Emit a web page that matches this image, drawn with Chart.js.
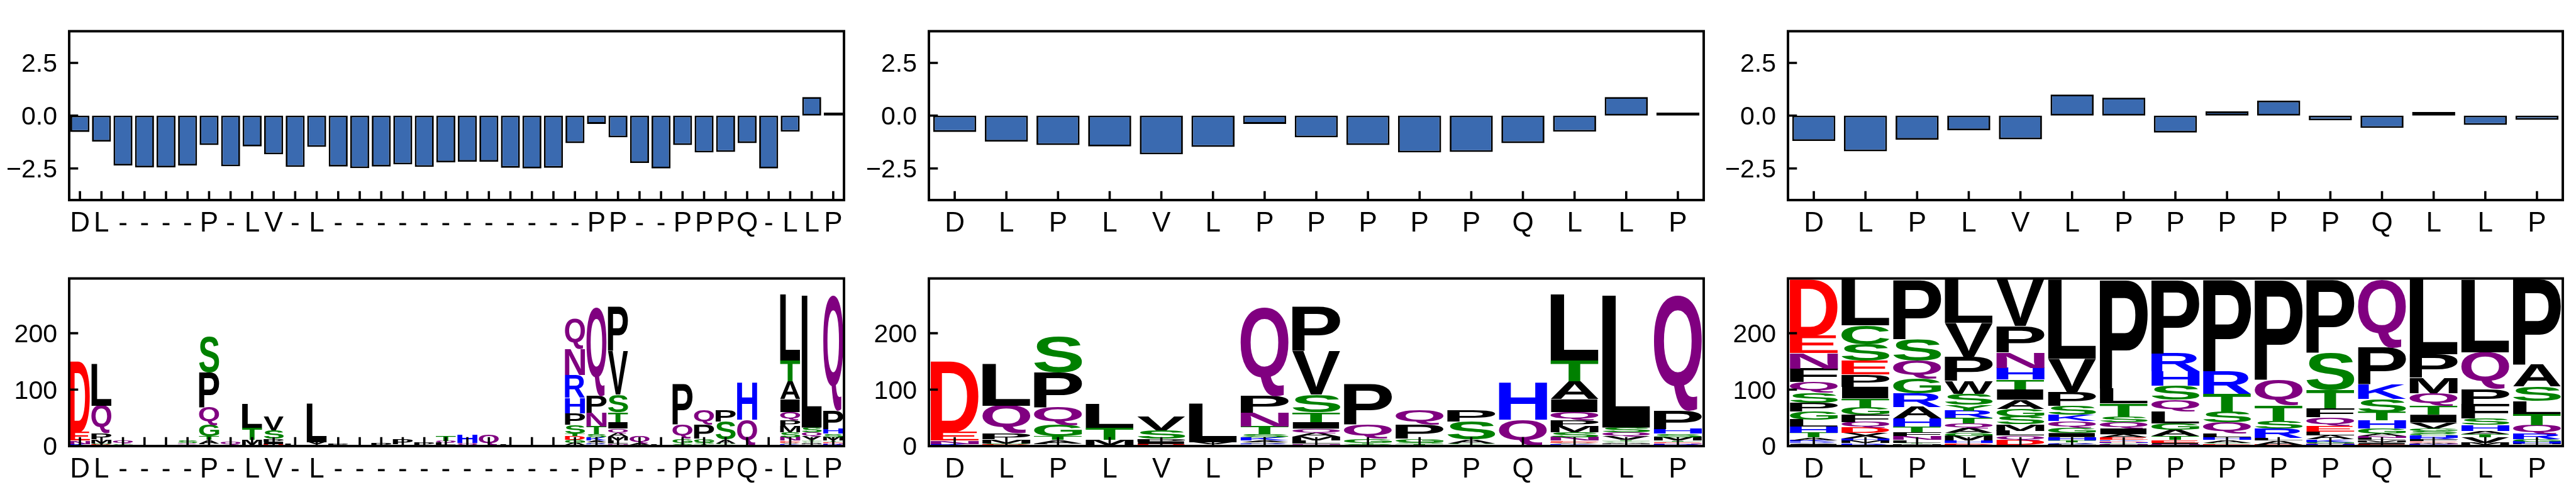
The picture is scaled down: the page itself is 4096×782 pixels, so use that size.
<!DOCTYPE html>
<html><head><meta charset="utf-8">
<script src="https://cdn.jsdelivr.net/npm/chart.js@4.4.1/dist/chart.umd.min.js"></script>
<style>
html,body{margin:0;padding:0;background:#fff;}
body{width:4096px;height:782px;position:relative;overflow:hidden;}
canvas{position:absolute;display:block;}
</style></head><body>
<script>
// ================= DATA =================
const leftLabels = ["D","L","-","-","-","-","P","-","L","V","-","L","-","-","-","-","-","-","-","-","-","-","-","-","P","P","-","-","P","P","P","Q","-","L","L","P"];
const coreLabels = ["D","L","P","L","V","L","P","P","P","P","P","Q","L","L","P"];

const barLeftValues = [-0.77,-1.23,-2.36,-2.45,-2.45,-2.36,-1.39,-2.40,-1.46,-1.83,-2.43,-1.48,-2.41,-2.49,-2.41,-2.31,-2.43,-2.21,-2.18,-2.18,-2.47,-2.50,-2.47,-1.30,-0.39,-1.03,-2.24,-2.50,-1.39,-1.74,-1.72,-1.30,-2.50,-0.76,0.88,0.14];
const barMidValues = [-0.77,-1.23,-1.39,-1.46,-1.83,-1.48,-0.39,-1.03,-1.39,-1.74,-1.72,-1.30,-0.76,0.88,0.14];
const barRightValues = [-1.20,-1.69,-1.14,-0.69,-1.12,1.00,0.85,-0.80,0.20,0.71,-0.22,-0.58,0.17,-0.44,-0.20];

const barYTicks = [-2.5, 0, 2.5];
const logoYTicks = [0, 100, 200];

// sequence-logo stacks, letters listed bottom -> top, counts in the same order
const midLetters = ["TKNED","ENDSMPQL","DVLATGQPS","SMTL","GDIPSV","SEVL","EHRVAKSTNPQ","ERNLMAQITSVP","LASTGQP","RATSGPQ","QTGASP","SQH","GHKVDENSMPQIATL","KHMAGTVQSL","GRNETMSHPQ"];
const midCounts = [
 [1,2.7,6,15,125],
 [0.8,1,1.5,1.5,7,10.4,49.6,73.4],
 [1.3,1.5,2,5.8,6.9,20.8,31.2,61.1,63.5],
 [1.4,9.2,22,43],
 [1.5,2.2,4.6,4.6,15,24.7],
 [1.5,1.7,3.8,68.3],
 [1.5,1.5,1.5,2,3,5.5,5.8,13.9,24.1,29.6,158.5],
 [1,1.5,2,5.1,7.5,6.3,7.6,11.4,17.7,30.9,77.4,79],
 [1,1.2,1.5,2,7.6,24.1,71.4],
 [1,1.5,1.5,3,6.3,24.1,26.5],
 [1.5,1.5,1.5,7.6,31.6,20.2],
 [1.9,45.1,66.3],
 [1,1.5,1.5,2,1.5,2,6.3,8.9,11.4,10.1,14,22.8,31.7,36.7,116.9],
 [1.3,1.5,2,2,2,2,6.3,7.6,8.1,234.4],
 [2,1.5,2,2,2,6.3,6.3,8.1,32.4,205.5]
];

// stacks at the gap ("-") positions of the left logo, in order
const gapLetters = ["ESGQ","DE","AL","KDNQS","SGQ","AL","SP","AL","SP","SGP","GP","SLQT","SQH","SQ","L","L","A","KAGDTSPHRNQ","SAQ","L","AI"];
const gapCounts = [
 [1,1.5,2,5],[0.8,1.5],[0.6,1],[0.7,0.8,1.5,2.5,4],[1.2,1.5,5],[1,2.5],[1,3],[0.7,1.5],[1,3.5],[1.5,2,8],[2,4.5],
 [2,4,3,9],[1.5,4,14],[1.9,19],[2.5],[1.5],[1.5],[1.9,3.5,5.4,6.8,4.6,15.2,20.2,27.9,40.5,46,54],[2,2.5,13],[3],[1,2]
];

const rightLetters = ["MCIVRKATHLGPSQFNED","WNRKMHXDQFGTIPESCL","DKVMYLNFTHARGQSP","NKDEHMGAQTRYSWPVL","KEDQLMSGAITHNPV","NMFRATHIGQKSPVL","VRNGHDKEAIQSTLP","VKNIETAGLQSHRP","KNEGAHLQSTRP","NGEALRSTQP","RHNGKALEQFTSP","DEIVMLNAGHTSKPQ","DKNWEFRHCSGVITQMPL","NGMVTAHSFPQL","ENMHGRQTLSAP"];
const rightCounts = [
 [1,1,1.5,2,2,3,4.6,8,12,12,14,16,18,18.5,24,27,31,100],
 [0.8,1,1.5,2,4.2,3.4,10.4,9.2,10.4,12.7,12.7,16.2,20.8,21.9,24.2,28.9,33.5,81.4],
 [0.7,0.8,1,1.5,2,4.6,6.9,7,10.4,13.8,20.8,24.2,26.6,31.1,38.1,105.7],
 [0.8,1,1.5,2,4.2,8.7,5.1,8.1,9.2,9.3,12.7,10.3,19.7,23.1,42.7,60,76.8],
 [1,1.5,8.1,8.1,8.1,11.5,13.9,13.8,16.2,18.4,17.3,20.8,27.7,46.2,82.6],
 [1,1,1.5,1.2,2,3.2,6,7.4,9.2,11.6,11.5,16.2,24.2,58.9,140.3],
 [1.1,1,1.5,2,1.5,1.5,2,4.6,5.8,10.4,10.4,10.4,23.1,27.7,192.2],
 [1,1.2,1.5,2.3,4.6,6.9,11.6,11.5,21,20.7,24.3,25.4,32.3,131],
 [1,1.5,1.5,2,4.6,4.6,7,19.6,18.4,32.4,40.4,162.2],
 [0.8,0.9,0.8,7,4.5,17.3,13.8,27.7,45,177.3],
 [1.7,1.5,1.5,2.5,4.6,6.9,6.9,10.4,15,16.2,32.3,65.8,130],
 [1.7,1.5,2,2,3.4,3.5,3.4,4.7,9.2,13.8,15,23.1,25.4,65.8,120.7],
 [1.8,1.5,1.5,2,2,3,3,4,3,4.7,5,10.4,13.8,16.2,21.9,27.7,41.6,132.2],
 [1,1.5,3.5,9.2,5.8,5.8,10.4,11.5,25.4,27.7,64.6,128.8],
 [1.5,1.5,1.8,3.5,3.5,9.2,16.2,19.6,23.1,25.4,38.1,151.8]
];

// ================= STYLE / LAYOUT =================
const PANEL_LEFT = [110, 1477, 2843];
const PANEL_W = 1232;
const ROW_TOP = [20, 413];
const ROW_H = [298, 296];
const YAXW = 105, PADT = 6, PADR = 6, XAXH = 62;
const SPINE_W = 3.9, TICK_W = 3.6, TICK_L = 14.3;
const BAR_FILL = '#3a6ab0', BAR_EDGE = 2.8;
const FONT_FAMILY = '"Liberation Sans", Arial, Helvetica, sans-serif';
const YTICK_SIZE = 41, XTICK_SIZE = 44;
const LETTER_FONT = 'bold 200px "Liberation Sans", Arial, sans-serif';
const LETTER_FRAC = 0.93;
const LETTER_COLORS = {D:'#ff0000',E:'#ff0000',N:'#800080',Q:'#800080',H:'#0000ff',K:'#0000ff',R:'#0000ff',S:'#008000',T:'#008000',G:'#008000',C:'#008000',Y:'#008000'};

// ================= PLUGINS =================
const framePlugin = {
  id: 'frame',
  afterDraw(chart) {
    const {ctx, chartArea: a} = chart;
    const xs = chart.scales.x, ys = chart.scales.y;
    ctx.save();
    ctx.strokeStyle = '#000';
    ctx.lineWidth = TICK_W;
    ctx.lineCap = 'butt';
    ctx.beginPath();
    xs.ticks.forEach((t, i) => { const px = xs.getPixelForTick(i); ctx.moveTo(px, a.bottom); ctx.lineTo(px, a.bottom - TICK_L); });
    ys.ticks.forEach((t, i) => { const py = ys.getPixelForTick(i); ctx.moveTo(a.left, py); ctx.lineTo(a.left + TICK_L, py); });
    ctx.stroke();
    ctx.lineWidth = SPINE_W;
    ctx.lineJoin = 'miter';
    ctx.strokeRect(a.left, a.top, a.right - a.left, a.bottom - a.top);
    ctx.restore();
  }
};

const glyphCache = {};
function glyphBox(ctx, ch) {
  if (!glyphCache[ch]) {
    ctx.save(); ctx.font = LETTER_FONT;
    const m = ctx.measureText(ch);
    glyphCache[ch] = {l: m.actualBoundingBoxLeft, r: m.actualBoundingBoxRight, a: m.actualBoundingBoxAscent, d: m.actualBoundingBoxDescent};
    ctx.restore();
  }
  return glyphCache[ch];
}
function drawGlyph(ctx, ch, x, y, w, h, color) {
  const b = glyphBox(ctx, ch);
  const gw = b.l + b.r, gh = b.a + b.d;
  if (gw <= 0 || gh <= 0) return;
  ctx.save();
  ctx.translate(x, y);
  ctx.scale(w / gw, h / gh);
  ctx.font = LETTER_FONT; ctx.textAlign = 'left'; ctx.textBaseline = 'alphabetic';
  ctx.fillStyle = color;
  ctx.fillText(ch, b.l, b.a);
  ctx.restore();
}
const logoPlugin = {
  id: 'logo',
  afterDatasetsDraw(chart) {
    const letters = chart.config._config.logoLetters;
    if (!letters) return;
    const {ctx, chartArea: a} = chart;
    ctx.save();
    ctx.beginPath(); ctx.rect(a.left, a.top, a.right - a.left, a.bottom - a.top); ctx.clip();
    chart.data.datasets.forEach((ds, di) => {
      const meta = chart.getDatasetMeta(di);
      meta.data.forEach((el, i) => {
        const ch = letters[i][di];
        if (!ch) return;
        const p = el.getProps(['x', 'y', 'base', 'width'], true);
        const top = Math.min(p.y, p.base), h = Math.abs(p.base - p.y);
        if (h < 0.25) return;
        drawGlyph(ctx, ch, p.x - p.width / 2, top, p.width, h, LETTER_COLORS[ch] || '#000000');
      });
    });
    ctx.restore();
  }
};

// ================= CHART BUILDERS =================
function makeCanvas(col, row) {
  const c = document.createElement('canvas');
  const w = YAXW + PANEL_W + PADR, h = PADT + ROW_H[row] + XAXH;
  c.width = w; c.height = h;
  c.style.width = w + 'px'; c.style.height = h + 'px';
  c.style.left = (PANEL_LEFT[col] - YAXW) + 'px';
  c.style.top = (ROW_TOP[row] - PADT) + 'px';
  document.body.appendChild(c);
  return c;
}
function baseOptions(yMin, yMax, yTicks, fmt, stacked) {
  return {
    responsive: false, animation: false, events: [], devicePixelRatio: 1,
    layout: {padding: {top: PADT, right: PADR, left: 0, bottom: 0}},
    plugins: {legend: {display: false}, tooltip: {enabled: false}, title: {display: false}},
    scales: {
      x: {
        type: 'category', offset: true, stacked: stacked,
        grid: {display: false}, border: {display: false},
        ticks: {autoSkip: false, maxRotation: 0, minRotation: 0, padding: 3, color: '#000',
                font: {family: FONT_FAMILY, size: XTICK_SIZE, lineHeight: 1.2}},
        afterFit(s) { s.height = XAXH; }
      },
      y: {
        min: yMin, max: yMax, stacked: stacked,
        grid: {display: false}, border: {display: false},
        ticks: {padding: 11, color: '#000', labelOffset: 3, font: {family: FONT_FAMILY, size: YTICK_SIZE}, callback: fmt},
        afterBuildTicks(s) { s.ticks = yTicks.map(v => ({value: v})); },
        afterFit(s) { s.width = YAXW; }
      }
    }
  };
}
const fmtBar = v => (v < 0 ? '\u2212' : '') + Math.abs(v).toFixed(1);
const fmtLogo = v => String(v);

function barChart(col, labels, values) {
  const slot = PANEL_W / labels.length;
  new Chart(makeCanvas(col, 0), {
    type: 'bar',
    data: {labels: labels, datasets: [{data: values, backgroundColor: BAR_FILL, borderColor: '#000', borderWidth: BAR_EDGE,
      borderSkipped: false, barPercentage: (0.8 * slot + BAR_EDGE) / slot, categoryPercentage: 1}]},
    options: baseOptions(-4, 4, barYTicks, fmtBar, false),
    plugins: [framePlugin]
  });
}
function logoChart(col, labels, letters, counts) {
  const depth = Math.max(...letters.map(s => s.length));
  const datasets = [];
  for (let k = 0; k < depth; k++) {
    datasets.push({data: counts.map(c => (k < c.length ? c[k] : 0)), backgroundColor: 'rgba(0,0,0,0)', borderWidth: 0,
      barPercentage: LETTER_FRAC, categoryPercentage: 1});
  }
  new Chart(makeCanvas(col, 1), {
    type: 'bar',
    data: {labels: labels, datasets: datasets},
    options: baseOptions(0, 297, logoYTicks, fmtLogo, true),
    plugins: [logoPlugin, framePlugin],
    logoLetters: letters
  });
}

// left logo: labelled positions use the core columns, gaps use the gap stacks
const leftLetters = [], leftCounts = [];
{
  let ci = 0, gi = 0;
  leftLabels.forEach(l => {
    if (l === '-') { leftLetters.push(gapLetters[gi]); leftCounts.push(gapCounts[gi]); gi++; }
    else { leftLetters.push(midLetters[ci]); leftCounts.push(midCounts[ci]); ci++; }
  });
}

barChart(0, leftLabels, barLeftValues);
barChart(1, coreLabels, barMidValues);
barChart(2, coreLabels, barRightValues);
logoChart(0, leftLabels, leftLetters, leftCounts);
logoChart(1, coreLabels, midLetters, midCounts);
logoChart(2, coreLabels, rightLetters, rightCounts);
</script>
</body></html>
